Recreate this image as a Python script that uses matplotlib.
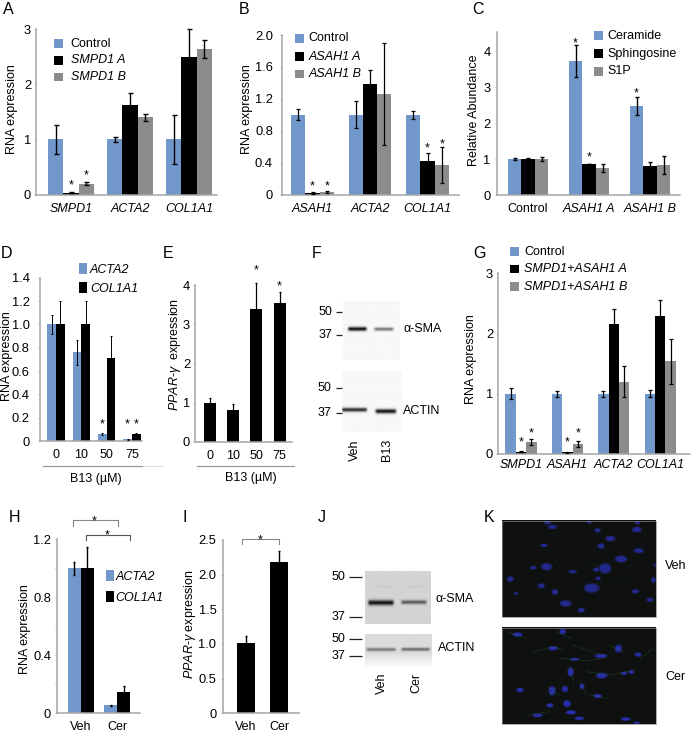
import numpy as np
import matplotlib
matplotlib.use("Agg")
import matplotlib.pyplot as plt
from matplotlib.patches import Rectangle

plt.rcParams['font.family'] = ['Liberation Sans', 'DejaVu Sans']
plt.rcParams['font.size'] = 9
plt.rcParams['mathtext.fontset'] = 'custom'
plt.rcParams['mathtext.rm'] = 'Liberation Sans'
plt.rcParams['mathtext.it'] = 'Liberation Sans:italic'
plt.rcParams['mathtext.bf'] = 'Liberation Sans:bold'

W, H = 700, 734
BLUE, BLACK, GRAY = '#7297ca', '#000000', '#8c8c8c'
AXC = '#a6a6a6'

# ---- data ----
a_groups = ['SMPD1', 'ACTA2', 'COL1A1']
a_control = [1.0, 1.0, 1.0]
a_a = [0.03, 1.62, 2.50]
a_b = [0.20, 1.40, 2.65]
a_control_err = [0.27, 0.05, 0.44]
a_a_err = [0.01, 0.23, 0.50]
a_b_err = [0.02, 0.06, 0.16]

b_groups = ['ASAH1', 'ACTA2', 'COL1A1']
b_control = [1.0, 1.0, 1.0]
b_a = [0.02, 1.39, 0.42]
b_b = [0.03, 1.26, 0.37]
b_control_err = [0.07, 0.17, 0.05]
b_a_err = [0.015, 0.17, 0.10]
b_b_err = [0.01, 0.64, 0.22]

c_groups = ['Control', 'ASAH1 A', 'ASAH1 B']
c_cer = [1.0, 3.72, 2.48]
c_sph = [1.0, 0.86, 0.80]
c_s1p = [1.0, 0.75, 0.83]
c_cer_err = [0.02, 0.45, 0.25]
c_sph_err = [0.03, 0.01, 0.12]
c_s1p_err = [0.05, 0.12, 0.26]

d_groups = ['0', '10', '50', '75']
d_acta2 = [1.0, 0.76, 0.06, 0.015]
d_col = [1.0, 1.0, 0.71, 0.06]
d_acta2_err = [0.08, 0.11, 0.012, 0.004]
d_col_err = [0.20, 0.20, 0.19, 0.01]

e_groups = ['0', '10', '50', '75']
e_vals = [1.0, 0.80, 3.40, 3.55]
e_err = [0.12, 0.17, 0.65, 0.27]

g_groups = ['SMPD1', 'ASAH1', 'ACTA2', 'COL1A1']
g_control = [1.0, 1.0, 1.0, 1.0]
g_a = [0.04, 0.03, 2.16, 2.29]
g_b = [0.20, 0.17, 1.20, 1.54]
g_control_err = [0.09, 0.05, 0.05, 0.06]
g_a_err = [0.01, 0.01, 0.24, 0.27]
g_b_err = [0.05, 0.05, 0.26, 0.37]

h_groups = ['Veh', 'Cer']
h_acta2 = [1.0, 0.055]
h_col = [1.0, 0.145]
h_acta2_err = [0.045, 0.005]
h_col_err = [0.145, 0.045]

i_groups = ['Veh', 'Cer']
i_vals = [1.01, 2.18]
i_err = [0.10, 0.16]

# nuclei (x, y, w, h)
k_nuclei_veh = [(683,85,20,10),(698,98,26,12),(808,84,14,8),(953,86,16,8),(950,106,28,16),
    (833,108,18,12),(871,133,28,16),(843,155,20,16),(672,153,22,10),(956,169,30,14),
    (903,194,36,20),(855,222,36,30),(828,226,18,12),(680,217,32,20),(640,220,20,10),
    (758,232,24,10),(571,254,20,16),(1000,257,14,16),(1004,213,6,10),(834,252,16,10),
    (664,274,20,14),(815,281,44,26),(705,293,18,16),(946,291,22,12),(588,297,14,8),
    (737,327,34,18),(990,316,20,12),(784,347,20,14)]
k_nuclei_cer = [(593,420,28,12),(728,411,18,16),(699,461,28,12),(895,462,20,22),(954,480,20,12),
    (843,484,36,12),(764,494,28,8),(752,532,18,26),(845,543,32,16),(912,536,18,10),
    (934,532,16,12),(786,575,14,16),(735,583,18,18),(696,588,20,26),(600,586,20,14),
    (833,604,24,12),(690,632,20,12),(741,627,22,20),(753,653,30,12),(653,662,30,10),
    (778,671,28,10),(917,673,28,10),(950,684,20,6)]
k_fibres_veh = [[(780,200),(830,212),(870,205)],[(860,240),(900,262),(930,240)],
    [(820,270),(890,250)],[(700,190),(722,215)],[(650,150),(700,175)]]
k_fibres_cer = [[(640,470),(700,455),(730,465)],[(720,490),(800,497),(850,490)],
    [(760,450),(850,482)],[(750,515),(762,570)],[(685,575),(720,603)],
    [(800,530),(870,540),(945,525)],[(870,450),(912,472)],[(780,560),(800,600)],
    [(810,600),(862,610)],[(620,660),(690,650)],[(560,410),(620,430)],
    [(710,410),(752,430)],[(960,490),(1000,460)],[(690,600),(712,575)]]

# ---- helpers ----
fig = plt.figure(figsize=(W/100, H/100), dpi=100)
ov = fig.add_axes([0, 0, 1, 1], zorder=5)
ov.set_xlim(0, W); ov.set_ylim(H, 0); ov.axis('off'); ov.patch.set_alpha(0)


def panel(left, right, top, bottom, ytop, yticks, ylabels, c0, step, barw, groups, series,
          errs, colors, italic=False, pad_y=2.0, pad_x=9, elw=1.0, cap=1.8, minor=None, stars=()):
    ax = fig.add_axes([left/W, 1-bottom/H, (right-left)/W, (bottom-top)/H])
    ax.set_xlim((left-c0)/step, (right-c0)/step)
    ax.set_ylim(0, ytop)
    n = len(series)
    bw = barw/step
    xs = np.arange(len(groups))
    for k, (vals, er, col) in enumerate(zip(series, errs, colors)):
        pos = xs + (k-(n-1)/2)*bw
        ax.bar(pos, vals, width=bw, color=col, linewidth=0, zorder=2)
        ax.errorbar(pos, vals, yerr=er, fmt='none', ecolor='black', elinewidth=elw,
                    capsize=cap, capthick=elw, zorder=3, clip_on=False)
    for (g, k, y) in stars:
        ax.annotate('*', (g + (k-(n-1)/2)*bw, y), xytext=(0, -5), textcoords='offset points',
                    ha='center', va='baseline', fontsize=9, annotation_clip=False)
    for s in ('top', 'right'):
        ax.spines[s].set_visible(False)
    for s in ('left', 'bottom'):
        ax.spines[s].set_color(AXC); ax.spines[s].set_linewidth(1.1)
    ax.patch.set_alpha(0)
    ax.set_yticks(yticks); ax.set_yticklabels(ylabels)
    if minor is not None:
        ax.set_yticks(minor, minor=True)
        ax.tick_params(axis='y', which='minor', length=1.5, width=0.6, color=AXC)
    ax.tick_params(axis='y', which='major', length=1.5, width=0.6, color=AXC, pad=pad_y, labelsize=9.3)
    ax.set_xticks(xs); ax.set_xticklabels(groups, style='italic' if italic else 'normal')
    ax.tick_params(axis='x', length=0, pad=pad_x*0.72, labelsize=9)
    return ax


def legend(items, sx0, sx1, ys, sh, tx, tys=None):
    tys = tys or ys
    for (lab, col, it), y, ty in zip(items, ys, tys):
        ov.add_patch(Rectangle((sx0, y-sh/2), sx1-sx0, sh, color=col, lw=0))
        ov.text(tx, ty, lab, ha='left', va='center', fontsize=9, style='italic' if it else 'normal')


def ylab(x, y, s):
    ov.text(x, y, s, rotation=90, ha='center', va='center', fontsize=9)


def blot(x0, x1, y0, y1, bg, bands, fade=None):
    xx, yy = np.meshgrid(np.linspace(x0, x1, 160), np.linspace(y0, y1, 160))
    img = np.full(xx.shape, float(bg))
    for (a, b, yc, th, dark) in bands:
        hor = np.clip((xx-a)/3, 0, 1)*np.clip((b-xx)/3, 0, 1)
        img -= dark*np.exp(-((yy-yc)/th)**2)*hor
    if fade:
        img += (1-img)*np.clip((yy-fade[0])/(fade[1]-fade[0]), 0, 1)
    ov.imshow(img, extent=(x0, x1, y1, y0), cmap='gray', vmin=0, vmax=1, aspect='auto',
              interpolation='bilinear', zorder=1)


def marker(x0, x1, xt, y, s):
    ov.plot([x0, x1], [y, y], color='#222222', lw=0.9, solid_capstyle='butt')
    ov.text(xt, y, s, ha='right', va='center', fontsize=9)


def micro(x0, x1, y0, y1, nuclei, fibres, fcol, flw, blue):
    def fx(v): return 320 + v/3
    def fy(v): return 495 + v/3
    xx, yy = np.meshgrid(np.linspace(x0, x1, 300), np.linspace(y0, y1, 190))
    mask = np.zeros(xx.shape)
    for (x, y, w, h) in nuclei:
        r = np.sqrt(((xx-fx(x))/(w/6))**2 + ((yy-fy(y))/(h/6))**2)
        mask = np.maximum(mask, np.clip((1.25-r)/0.5, 0, 1))
    base = np.array([0.055, 0.07, 0.06])
    img = base + mask[..., None]*(np.array(blue)-base)
    ov.imshow(img, extent=(x0, x1, y1, y0), aspect='auto', interpolation='bilinear', zorder=1)
    ov.add_patch(Rectangle((x0, y0), x1-x0, y1-y0, facecolor='none', edgecolor='#8a8a8a', lw=0.5, zorder=4))
    for f in fibres:
        ov.plot([fx(p[0]) for p in f], [fy(p[1]) for p in f], color=fcol, lw=flw, ls=(0, (1.2, 1.8)), zorder=2)


def bracket(x0, x1, ytop, ydown, col, sx, sy):
    ov.plot([x0, x0, x1, x1], [ydown, ytop, ytop, ydown], color=col, lw=0.8)
    ov.text(sx, sy+7, '*', ha='center', va='baseline', fontsize=9)


# ---- A ----
panel(36, 217, 29.5, 194.5, 3, [0, 1, 2, 3], ['0', '1', '2', '3'], 71, 59, 15.2, a_groups,
      [a_control, a_a, a_b], [a_control_err, a_a_err, a_b_err], [BLUE, BLACK, GRAY], italic=True,
      stars=[(0, 1, 0.24), (0, 2, 0.41)])
legend([('Control', BLUE, False), ('SMPD1 A', BLACK, True), ('SMPD1 B', GRAY, True)],
       54.3, 63.3, [43.7, 60.3, 77], 8.5, 70.7)
ylab(12.3, 108.7, 'RNA expression')

# ---- B ----
panel(282, 459, 35, 194.5, 2.0, [0, .4, .8, 1.2, 1.6, 2.0], ['0', '0.4', '0.8', '1.2', '1.6', '2.0'],
      312.5, 57.5, 14.3, b_groups, [b_control, b_a, b_b], [b_control_err, b_a_err, b_b_err],
      [BLUE, BLACK, GRAY], italic=True, pad_y=5, elw=0.9, cap=1.4,
      stars=[(0, 1, 0.155), (0, 2, 0.155), (2, 1, 0.63), (2, 2, 0.68)])
legend([('Control', BLUE, False), ('ASAH1 A', BLACK, True), ('ASAH1 B', GRAY, True)],
       295.3, 304.3, [38.3, 56.7, 74], 8.5, 308.3)
ylab(246.7, 109, 'RNA expression')

# ---- C ----
cax = panel(496.7, 680, 32.3, 195, 4.52, [0, 1, 2, 3, 4], ['0', '1', '2', '3', '4'], 528, 61, 13.5,
            c_groups, [c_cer, c_sph, c_s1p], [c_cer_err, c_sph_err, c_s1p_err], [BLUE, BLACK, GRAY],
            pad_x=7.5, elw=1.0, cap=1.4, pad_y=3,
            stars=[(1, 0, 4.33), (1, 1, 1.15), (2, 0, 2.92)])
for lab, it in zip(cax.get_xticklabels(), [False, True, True]):
    lab.set_style('italic' if it else 'normal')
legend([('Ceramide', BLUE, False), ('Sphingosine', BLACK, False), ('S1P', GRAY, False)],
       594.3, 603.3, [35.7, 53.7, 71.3], 8.5, 607.3)
ylab(474, 110.5, 'Relative Abundance')

# ---- D ----
panel(40, 142, 277.7, 441, 1.4, [0, .2, .4, .6, .8, 1.0, 1.2, 1.4],
      ['0', '0.2', '0.4', '0.6', '0.8', '1.0', '1.2', '1.4'], 56, 25.3, 8.6, d_groups,
      [d_acta2, d_col], [d_acta2_err, d_col_err], [BLUE, BLACK], pad_y=6, pad_x=8, elw=0.7, cap=0.8,
      stars=[(2, 0, 0.18), (3, 0, 0.18), (3, 1, 0.18)])
legend([('ACTA2', BLUE, True), ('COL1A1', BLACK, True)], 79.3, 87.3, [268, 287.7], 11, 90, [270, 289])
ylab(7, 356.3, 'RNA expression')
ov.plot([43, 143], [465.7, 465.7], color='#999999', lw=0.9)
ov.plot([143, 163], [465.7, 465.7], color='#dddddd', lw=0.7)
ov.text(96, 478.7, 'B13 (µM)', ha='center', va='center', fontsize=9)

# ---- E ----
panel(195, 291.7, 285, 441.7, 4, [0, 1, 2, 3, 4], ['0', '1', '2', '3', '4'], 209.7, 23.3, 12, e_groups,
      [e_vals], [e_err], [BLACK], pad_y=2, pad_x=8, elw=0.9, cap=0.8,
      stars=[(2, 0, 4.47), (3, 0, 4.06)])
ylab(175, 354.7, r'$\mathit{PPAR}$-$\mathit{\gamma}$  expression')
ov.plot([197, 294], [465.7, 465.7], color='#999999', lw=0.9)
ov.text(250.5, 478, 'B13 (µM)', ha='center', va='center', fontsize=9)

# ---- F ----
blot(343, 400, 301.7, 360, 0.97, [(346.7, 368, 329.3, 2.0, 0.92), (373, 395, 329.5, 1.7, 0.5)])
blot(341.7, 401.7, 370.7, 431.7, 0.97, [(340, 368, 409.5, 2.0, 0.8), (374, 397.3, 411, 2.2, 0.9)])
marker(335.7, 341.7, 332.5, 311.7, '50')
marker(335.7, 341.7, 332.5, 335, '37')
marker(335.7, 341.7, 331.5, 388, '50')
marker(335.7, 341.7, 331.5, 412.7, '37')
ov.text(403, 328.5, 'α-SMA', ha='left', va='center', fontsize=9)
ov.text(403, 411, 'ACTIN', ha='left', va='center', fontsize=9)
ov.text(355, 450, 'Veh', rotation=90, ha='center', va='center', fontsize=9)
ov.text(386.7, 450, 'B13', rotation=90, ha='center', va='center', fontsize=9)

# ---- G ----
panel(498, 690, 273.3, 454, 3, [0, 1, 2, 3], ['0', '1', '2', '3'], 521, 46.4, 10.4, g_groups,
      [g_control, g_a, g_b], [g_control_err, g_a_err, g_b_err], [BLUE, BLACK, GRAY], italic=True,
      pad_x=5.5, elw=0.9, cap=1.1,
      stars=[(0, 1, 0.26), (0, 2, 0.41), (1, 1, 0.25), (1, 2, 0.41)])
legend([('Control', BLUE, False), ('SMPD1+ASAH1 A', BLACK, True), ('SMPD1+ASAH1 B', GRAY, True)],
       510, 518.7, [251.7, 269, 286.7], 8.5, 524)
ylab(470.7, 359, 'RNA expression')

# ---- H ----
panel(57.3, 140, 539, 713.3, 1.2, [0, .4, .8, 1.2], ['0', '0.4', '0.8', '1.2'], 80.7, 36.7, 13, h_groups,
      [h_acta2, h_col], [h_acta2_err, h_col_err], [BLUE, BLACK], pad_y=3, pad_x=8, elw=1.0, cap=0.6,
      minor=[.2, .6, 1.0])
legend([('ACTA2', BLUE, True), ('COL1A1', BLACK, True)], 106, 114, [575.7, 596.7], 11, 115.7, [576.7, 597.7])
ylab(25, 629, 'RNA expression')
bracket(73.3, 117.7, 520.3, 525.7, '#888888', 93.7, 517)
bracket(86, 130.3, 535, 540.3, '#555555', 106.7, 531.5)

# ---- I ----
panel(222.7, 299, 540, 713.3, 2.5, [0, .5, 1, 1.5, 2, 2.5], ['0', '0.5', '1.0', '1.5', '2.0', '2.5'],
      246, 33, 18.3, i_groups, [i_vals], [i_err], [BLACK], pad_y=3, pad_x=8, elw=1.0, cap=0.5)
ylab(190, 624, r'$\mathit{PPAR}$-$\mathit{\gamma}$ expression')
bracket(242.3, 278.7, 539.3, 544, '#888888', 260.3, 536)

# ---- J ----
blot(365, 431, 571.7, 624, 0.83, [(366.7, 395, 603, 2.6, 0.75), (400, 428, 602.5, 2.0, 0.48), (375, 395, 587, 1.5, 0.03), (405, 425, 587, 1.5, 0.03)])
blot(365, 431.7, 634, 668, 0.86, [(365, 397, 649.5, 1.6, 0.4), (400, 431, 649.3, 1.6, 0.45)], fade=(653, 668))
marker(348.7, 361.7, 345.7, 577.3, '50')
marker(348.7, 361.7, 345.7, 616.7, '37')
marker(348.7, 361.7, 345.7, 639, '50')
marker(348.7, 361.7, 345.7, 656.3, '37')
ov.text(436, 599.3, 'α-SMA', ha='left', va='center', fontsize=9)
ov.text(438, 647.7, 'ACTIN', ha='left', va='center', fontsize=9)
ov.text(382.3, 683, 'Veh', rotation=90, ha='center', va='center', fontsize=9)
ov.text(416.7, 683, 'Cer', rotation=90, ha='center', va='center', fontsize=9)

# ---- K ----
micro(502.3, 655.7, 521, 617.3, k_nuclei_veh, k_fibres_veh, '#17331c', 0.45, (0.14, 0.16, 0.56))
micro(502.3, 655.7, 627.7, 724, k_nuclei_cer, k_fibres_cer, '#2c7036', 0.5, (0.16, 0.18, 0.68))
ov.text(665, 565.7, 'Veh', ha='left', va='center', fontsize=9)
ov.text(665, 677.3, 'Cer', ha='left', va='center', fontsize=9)

# ---- panel letters ----
letters = {'A': (3, 10), 'B': (239, 10), 'C': (472.7, 10), 'D': (1, 254), 'E': (163, 254),
           'F': (311.7, 254), 'G': (473, 254), 'H': (8.3, 518), 'I': (182.7, 518), 'J': (318, 518),
           'K': (483.3, 518)}
for s, (x, y) in letters.items():
    ov.text(x, y, s, ha='left', va='center', fontsize=11.5)

ov.set_xlim(0, W); ov.set_ylim(H, 0)
fig.savefig('out.png', dpi=100)
